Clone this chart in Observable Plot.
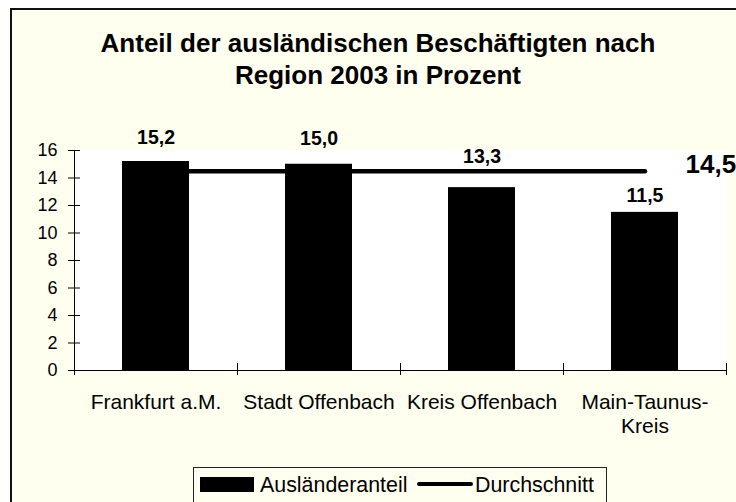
<!DOCTYPE html>
<html>
<head>
<meta charset="utf-8">
<script src="https://cdn.jsdelivr.net/npm/d3@7"></script>
<script src="https://cdn.jsdelivr.net/npm/@observablehq/plot@0.6"></script>
<style>
  html, body { margin: 0; padding: 0; background: #fff; }
  #chart { position: relative; width: 736px; height: 502px; overflow: hidden; background: #fff;
           font-family: "Liberation Sans", Arial, sans-serif; color: #000; }
  #panel { position: absolute; left: 10px; top: 8px; width: 760px; height: 520px;
           background: #FFFFF0; border-left: 2px solid #111; border-top: 2px solid #111; box-sizing: border-box; }
  #title { position: absolute; left: 0; top: 27px; width: 756px; text-align: center;
           font-weight: bold; font-size: 26px; line-height: 32px; }
  #plot { position: absolute; left: 0; top: 0; }
  #legend { position: absolute; left: 193px; top: 467px; width: 414px; height: 50px;
            border: 1px solid #222; box-sizing: border-box; background: #FFFFF0; }
  #legend .sw { position: absolute; background: #000; }
  #legend .tx { position: absolute; top: 7px; font-size: 21.4px; line-height: 21px; white-space: nowrap; }
</style>
</head>
<body>
<div id="chart">
  <div id="panel"></div>
  <div id="title">Anteil der ausländischen Beschäftigten nach<br>Region 2003 in Prozent</div>
  <div id="plot"></div>
  <div id="legend"></div>
</div>
<script>
// ---- data ----
const regions = ["Frankfurt a.M.", "Stadt Offenbach", "Kreis Offenbach", "Main-Taunus-Kreis"];
const shares = [15.2, 15.0, 13.3, 11.5];
const average = 14.5;
const yTicks = [0, 2, 4, 6, 8, 10, 12, 14, 16];
const seriesNames = ["Ausländeranteil", "Durchschnitt"];

const table = regions.map((r, i) => ({region: r, share: shares[i]}));
const fmt = v => v.toLocaleString("de-DE", {minimumFractionDigits: 1, maximumFractionDigits: 1});

// ---- layout ----
const W = 736, H = 502;
const mL = 74, mR = 10, mT = 150, mB = 132;
const plotW = W - mL - mR;
const bw = plotW / regions.length;
const labelLift = [18, 19, 25, 10]; // manual label placement as in the original

const labelMarks = table.map((d, i) =>
  Plot.text([d], {x: "region", y: "share", text: t => fmt(t.share), lineAnchor: "bottom",
    dy: -labelLift[i], fontSize: 19.5, fontWeight: "bold", fill: "black"}));

const chart = Plot.plot({
  width: W, height: H,
  marginLeft: mL, marginRight: mR, marginTop: mT, marginBottom: mB,
  style: {background: "transparent", fontFamily: "'Liberation Sans', Arial, sans-serif", color: "#000", overflow: "visible"},
  x: {domain: regions, padding: 0, axis: null},
  y: {domain: [0, 16], axis: null},
  marks: [
    Plot.frame({fill: "white", stroke: "none"}),
    Plot.lineY(regions, {x: d => d, y: () => average, stroke: "black", strokeWidth: 4.5}),
    Plot.barY(table, {x: "region", y: "share", fill: "black", insetLeft: 48, insetRight: 48}),
    Plot.ruleY([0], {stroke: "black", strokeWidth: 1}),
    Plot.ruleX([regions[0]], {x: d => d, y1: 0, y2: 16, dx: -bw / 2, stroke: "black"}),
    Plot.tickY(yTicks, {y: d => d, insetLeft: -6, insetRight: plotW - 6, stroke: "black"}),
    Plot.tickX(regions, {x: d => d, dx: -bw / 2, insetTop: 213, insetBottom: -5, stroke: "black"}),
    Plot.tickX([regions[regions.length - 1]], {x: d => d, dx: bw / 2, insetTop: 213, insetBottom: -5, stroke: "black"}),
    Plot.axisY({ticks: yTicks, tickSize: 0, tickPadding: 17, fontSize: 18, label: null, tickFormat: d => String(d)}),
    Plot.axisX({tickSize: 0, tickPadding: 21, fontSize: 21, label: null, lineHeight: 1.15,
      tickFormat: d => d.replace("Main-Taunus-Kreis", "Main-Taunus-\nKreis")}),
    ...labelMarks,
    Plot.text([average], {x: () => regions[regions.length - 1], y: d => d, text: d => fmt(d),
      textAnchor: "start", lineAnchor: "bottom", dx: 40.5, dy: 1.5, fontSize: 26, fontWeight: "bold", fill: "black"})
  ]
});
document.getElementById("plot").appendChild(chart);

// ---- legend ----
const lg = document.getElementById("legend");
lg.innerHTML = `
  <div class="sw" style="left:6px;top:9px;width:54px;height:15px"></div>
  <div class="tx" style="left:66px">${seriesNames[0]}</div>
  <div class="sw" style="left:223px;top:14px;width:56px;height:4px;border-radius:2px"></div>
  <div class="tx" style="left:281px">${seriesNames[1]}</div>`;
</script>
</body>
</html>
